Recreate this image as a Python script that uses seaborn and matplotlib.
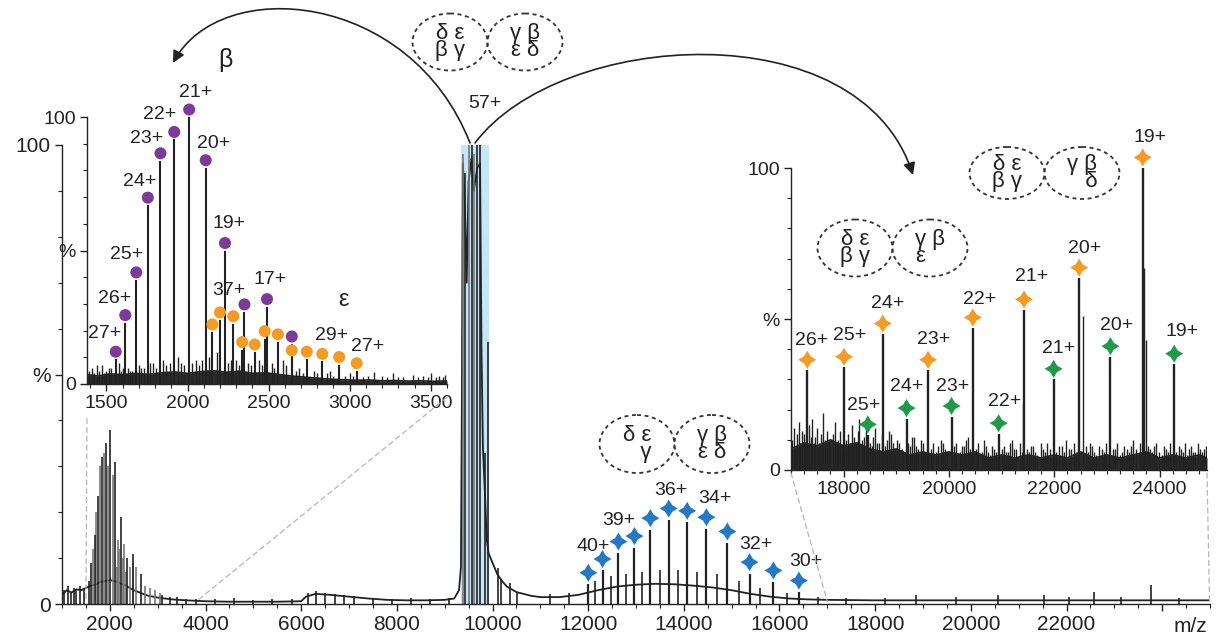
import matplotlib
matplotlib.use("Agg")
import matplotlib.pyplot as plt
from matplotlib.patches import Ellipse, FancyArrowPatch, ConnectionPatch
from matplotlib.path import Path
from matplotlib.transforms import Affine2D
import pandas as pd
import seaborn as sns

sns.set_style("ticks")
plt.rcParams["font.family"] = ["Liberation Sans", "DejaVu Sans"]

W, H = 1217, 644
INK = "#222222"
PURPLE = "#7d3a96"
ORANGE = "#f59a23"
GREEN = "#1f9a4b"
BLUE = "#2478c4"
BAND = "#c4e6f7"
STAR = Path.unit_regular_star(4, 0.53)  # four-point diamond with concave sides

# ---------------- main spectrum (m/z 1000-25000) ----------------
main_trace_mz = [1000, 1100, 1200, 1300, 1400, 1500, 1600, 1700, 1800, 1900,
                 2000, 2100, 2200, 2300, 2400, 2500, 2600, 2700, 2800, 3000,
                 3300, 3600, 4000, 4500, 5000, 5500, 6000, 6100, 6300, 6600,
                 7000, 7400, 7800, 8200, 8600, 9000, 9200, 9300, 9340, 9360,
                 9380, 9420, 9460, 9500, 9560, 9610, 9680, 9740, 9770, 9800,
                 9850, 9880, 9920, 9960, 10000, 10100, 10200, 10300, 10500, 10800,
                 11000, 11400, 11800, 12200, 12600, 13000, 13400, 13800, 14200, 14600,
                 15000, 15400, 15800, 16200, 16600, 17000, 18000, 19000, 20000, 21000,
                 22000, 23000, 24000, 25000]
main_trace_int = [2.0, 3.0, 2.5, 3.2, 3.0, 3.5, 4.0, 4.2, 4.8, 5.0,
                  5.2, 5.0, 4.6, 4.2, 3.6, 3.0, 2.6, 2.2, 1.8, 1.4,
                  1.0, 0.8, 0.6, 0.5, 0.5, 0.5, 0.6, 1.6, 2.2, 2.0,
                  1.6, 1.2, 0.9, 0.8, 0.8, 0.9, 1.2, 3.0, 8.0, 45.0,
                  96.0, 88.0, 70.0, 92.0, 97.0, 90.0, 95.0, 96.0, 55.0, 34.0,
                  22.0, 14.0, 11.0, 10.0, 9.0, 6.5, 5.0, 3.8, 2.6, 1.8,
                  1.5, 1.5, 2.0, 3.0, 3.8, 4.2, 4.4, 4.3, 4.0, 3.6,
                  3.0, 2.2, 1.6, 1.2, 1.0, 0.9, 0.8, 0.8, 0.8, 0.8,
                  0.8, 0.8, 0.8, 0.8]

main_black_mz = [1557, 1616, 1684, 1755, 1833, 1918, 2010, 2112, 2231, 2351, 2490, 2643,
                 9425, 9561, 9680, 9735, 9840, 9909, 10105, 10188, 10362, 10502,
                 1050, 1120, 1180, 1250, 1300, 1380, 1450, 3100, 3250, 3400, 3600, 3800,
                 4200, 4600, 5000, 5400, 5800, 6150, 6300, 6500, 6700, 6900, 7100,
                 7500, 7900, 8300, 8700, 9100, 11200, 11600, 12150, 12480, 12800,
                 13130, 13500, 13880, 14270, 14690, 15150, 15600, 16150, 16800, 17400,
                 18200, 18848, 19683, 20560, 21520, 22050, 22570, 23130, 23770, 24360]
main_black_int = [5, 9, 15, 23.5, 32, 35, 38, 31, 19, 10, 11, 6.5,
                  94, 100, 100, 100, 33, 57, 7.8, 5.2, 4.6, 2.4,
                  3, 4, 2.5, 3.5, 3, 4, 3.5, 2, 1.5, 1.5, 1, 1,
                  1, 1.2, 0.9, 1.1, 1, 2.5, 2.8, 2.5, 2.2, 2, 1.8,
                  1.4, 1.1, 1.2, 1, 1.3, 2.2, 2.5, 5, 6, 6.5,
                  7, 7.5, 7.5, 7, 6.5, 5, 3.5, 2.5, 1.5, 1.3,
                  1.4, 2, 1.5, 2, 2, 1.5, 2.7, 1.5, 4.1, 1.2]
main_gray_mz = [1650, 1720, 1790, 1870, 1960, 2060, 2153, 2200, 2282, 2337, 2414, 2476,
                2557, 2735, 2831, 2935, 3043, 2180, 2300, 9380, 9512, 9610]
main_gray_int = [12, 20, 30, 33, 30, 28, 8, 12, 10, 7, 8, 9,
                 8, 4, 3.5, 3, 2.5, 14, 13, 98, 100, 98]

main_ion_mz = [12003, 12300, 12633, 12967, 13300, 13684, 14070, 14472, 14910, 15374, 15873, 16406]
main_ion_int = [4.3, 7.3, 11.1, 12.3, 16.2, 18.3, 17.8, 16.4, 13.3, 6.6, 4.8, 2.6]
main_label_text = ["40+", "39+", "36+", "34+", "32+", "30+"]
main_label_mz = [12110, 12633, 13730, 14650, 15500, 16550]
main_label_int = [12.5, 18.1, 24.7, 23.0, 13.0, 9.2]

# ---------------- left inset (beta / epsilon) ----------------
beta_mz = [1557, 1616, 1684, 1755, 1833, 1918, 2010, 2112, 2231, 2351, 2490, 2643]
beta_int = [9.3, 23, 39, 67, 83.6, 91.6, 100, 81, 50, 27, 29, 15]
eps_mz = [2153, 2200, 2282, 2337, 2414, 2476, 2557, 2643, 2735, 2831, 2935, 3043]
eps_int = [19.5, 24, 22.6, 12.9, 12, 17, 15.8, 9.8, 9.3, 8.5, 7.3, 5]
left_label_text = ["27+", "26+", "25+", "24+", "23+", "22+", "21+", "20+", "19+", "17+", "37+", "29+", "27+"]
left_label_mz = [1490, 1551, 1622, 1704, 1745, 1827, 2051, 2163, 2255, 2510, 2255, 2888, 3112]
left_label_int = [19, 32, 48.5, 76, 92, 101, 109, 90, 60, 39, 35, 18, 14]

left_trace_mz = [1380, 1450, 1520, 1600, 1680, 1760, 1840, 1920, 2000, 2080,
                 2160, 2240, 2320, 2400, 2480, 2560, 2640, 2720, 2800, 2880,
                 2960, 3040, 3120, 3200, 3280, 3360, 3440, 3520, 3600]
left_trace_int = [3.5, 3.0, 3.8, 3.5, 4.0, 3.6, 4.2, 4.5, 4.0, 4.6,
                  5.0, 4.4, 4.8, 4.0, 4.2, 3.6, 3.0, 2.6, 2.2, 1.8,
                  1.6, 1.4, 1.5, 1.2, 1.3, 1.1, 1.2, 1.0, 1.2]
left_minor_mz = [1395, 1410, 1425, 1440, 1455, 1470, 1485, 1500, 1515, 1530, 1545, 1575,
                 1590, 1605, 1630, 1645, 1660, 1700, 1715, 1730, 1770, 1790, 1805, 1850,
                 1870, 1890, 1940, 1960, 1980, 2030, 2050, 2070, 2090, 2130, 2180, 2250,
                 2265, 2300, 2320, 2370, 2390, 2440, 2460, 2520, 2535, 2590, 2610, 2670,
                 2690, 2710, 2780, 2800, 2860, 2880, 2900, 2970, 3000, 3020, 3080, 3110,
                 3150, 3200, 3230, 3270, 3300, 3330, 3390, 3420, 3450, 3480, 3500, 3530,
                 3550, 3575, 3590]
left_minor_int = [5, 6, 4, 7, 5, 7, 4, 5, 6, 6, 4, 8,
                  5, 6, 6, 5, 5, 7, 6, 6, 8, 8, 6, 9,
                  7, 8, 10, 8, 7, 8, 9, 7, 9, 10, 12, 8,
                  9, 9, 7, 8, 7, 9, 7, 8, 6, 9, 7, 5,
                  6, 4, 5, 4, 4, 5, 3, 3, 4, 3, 2.5, 3,
                  4.5, 3, 2.5, 4, 2.5, 2.5, 3.5, 2.5, 3, 2.5, 4, 2.5,
                  3, 2.5, 3.5]

# ---------------- right inset (17000-24900) ----------------
orange_mz = [17308, 18006, 18742, 19604, 20453, 21425, 22472, 23679]
orange_int = [33, 34, 45, 33, 47, 53, 63.5, 100]
orange_text = ["26+", "25+", "24+", "23+", "22+", "21+", "20+", "19+"]
orange_label_mz = [17393, 18120, 18829, 19703, 20576, 21571, 22583, 23817]
orange_label_int = [43, 44.7, 55, 43.3, 56.5, 64, 73.4, 110]
green_mz = [18459, 19194, 20048, 20943, 21987, 23066, 24277]
green_int = [11.6, 17, 17.7, 12, 30, 37.5, 35]
green_text = ["25+", "24+", "23+", "22+", "21+", "20+", "19+"]
green_label_mz = [18373, 19197, 20063, 21064, 22076, 23185, 24419]
green_label_int = [21.5, 27.6, 27.8, 22.6, 40.3, 48, 45.8]

right_trace_mz = [17000, 17250, 17500, 17750, 18000, 18250, 18500, 18750, 19000, 19250,
                  19500, 19750, 20000, 20250, 20500, 20750, 21000, 21250, 21500, 21750,
                  22000, 22250, 22500, 22750, 23000, 23250, 23500, 23750, 24000, 24250,
                  24500, 24750, 24900]
right_trace_int = [7, 9, 8, 10, 8, 9, 7, 6, 7, 5,
                   6, 5, 6, 5, 6, 4, 5, 4, 5, 4,
                   5, 4, 6, 4, 5, 4, 5, 6, 4, 5,
                   4, 5, 4]
right_minor_mz = [17020, 17050, 17085, 17120, 17150, 17180, 17210, 17240, 17270, 17350,
                  17380, 17400, 17430, 17460, 17500, 17530, 17565, 17600, 17640, 17680,
                  17715, 17750, 17790, 17830, 17865, 17900, 17930, 17960, 18040, 18080,
                  18115, 18150, 18190, 18230, 18265, 18300, 18340, 18380, 18420, 18500,
                  18530, 18565, 18600, 18640, 18680, 18720, 18780, 18820, 18860, 18900,
                  18940, 18980, 19020, 19060, 19100, 19130, 19230, 19260, 19300, 19330,
                  19380, 19420, 19460, 19500, 19540, 19660, 19700, 19760, 19800, 19840,
                  19880, 19920, 19960, 20100, 20140, 20200, 20240, 20280, 20320, 20360,
                  20400, 20520, 20560, 20620, 20660, 20700, 20740, 20780, 20820, 20860,
                  20900, 21000, 21040, 21080, 21120, 21160, 21200, 21240, 21280, 21340,
                  21380, 21410, 21480, 21520, 21560, 21600, 21640, 21680, 21740, 21780,
                  21820, 21860, 21920, 22040, 22080, 22140, 22180, 22220, 22270, 22320,
                  22380, 22420, 22540, 22600, 22640, 22680, 22720, 22760, 22800, 22850,
                  22900, 22940, 22980, 23120, 23150, 23200, 23240, 23290, 23330, 23380,
                  23420, 23460, 23500, 23560, 23620, 23710, 23745, 23780, 23820, 23860,
                  23900, 23940, 23990, 24040, 24080, 24120, 24160, 24200, 24320, 24360,
                  24400, 24440, 24480, 24520, 24560, 24600, 24640, 24680, 24720, 24760,
                  24800, 24840, 24880]
right_minor_int = [10, 14, 8, 12, 16, 9, 13, 12, 8, 15,
                   11, 17, 9, 11, 14, 9, 12, 19, 10, 13,
                   9, 8, 12, 16, 9, 10, 13, 7, 10, 12,
                   9, 15, 11, 9, 13, 17, 10, 11, 14, 9,
                   8, 11, 14, 9, 9, 12, 8, 10, 13, 12,
                   9, 7, 10, 9, 7, 6, 9, 8, 11, 11,
                   8, 7, 10, 9, 6, 7, 9, 6, 8, 10,
                   9, 7, 6, 8, 9, 6, 8, 8, 10, 11,
                   7, 7, 9, 6, 10, 8, 6, 5, 8, 7,
                   6, 7, 8, 6, 6, 9, 10, 7, 7, 9,
                   6, 22, 7, 6, 8, 8, 6, 5, 9, 7,
                   6, 9, 7, 6, 8, 8, 6, 10, 7, 7,
                   9, 6, 51, 8, 6, 9, 8, 6, 5, 8,
                   7, 6, 9, 7, 7, 9, 5, 6, 8, 7,
                   6, 8, 10, 7, 9, 67, 43, 8, 7, 6,
                   8, 9, 6, 5, 8, 7, 6, 9, 6, 8,
                   7, 6, 9, 5, 7, 8, 6, 6, 9, 7,
                   6, 7, 8]

# ---------------- figure ----------------
fig = plt.figure(figsize=(W / 100, H / 100), dpi=100)
pix = Affine2D().scale(1 / W, -1 / H).translate(0, 1) + fig.transFigure


def axes_px(left, right, bottom, top):
    return fig.add_axes([left / W, 1 - bottom / H, (right - left) / W, (bottom - top) / H])


def style(ax, xlim, xmajor, xlabels, xminor, fs):
    ax.set_xlim(*xlim)
    ax.set_ylim(0, 100)
    ax.set_facecolor("none")
    for s in ["top", "right"]:
        ax.spines[s].set_visible(False)
    for s in ["left", "bottom"]:
        ax.spines[s].set_linewidth(1.0)
        ax.spines[s].set_color(INK)
    ax.set_xticks(xmajor)
    ax.set_xticklabels(xlabels, fontsize=fs, color=INK)
    ax.set_xticks(xminor, minor=True)
    ax.set_yticks([0, 50, 100])
    ax.set_yticklabels(["0", "%", "100"], fontsize=fs, color=INK)
    ax.set_yticks(range(10, 100, 10), minor=True)
    ax.tick_params(which="major", direction="out", length=5, width=1, color=INK, pad=3)
    ax.tick_params(which="minor", direction="out", length=3, width=0.8, color=INK)
    ax.set_xlabel("")
    ax.set_ylabel("")


def trace(ax, mz, inten, lw=1.0, fill=False):
    df = pd.DataFrame({"mz": mz, "int": inten})
    sns.lineplot(data=df, x="mz", y="int", ax=ax, color=INK, lw=lw,
                 estimator=None, sort=False, legend=False)
    if fill:
        ax.fill_between(df["mz"], 0, df["int"], color="#2a2a2a", lw=0)


# main axes
ax = axes_px(62, 1210, 604, 145)
ax.axvspan(9350, 9930, color=BAND, lw=0, zorder=0)
trace(ax, main_trace_mz, main_trace_int, lw=1.3)
ax.vlines(main_gray_mz, 0, main_gray_int, color="#777777", lw=1.2)
ax.vlines(main_black_mz, 0, main_black_int, color=INK, lw=1.2)
ax.vlines(main_ion_mz, 0, main_ion_int, color=INK, lw=1.6)
ions = pd.DataFrame({"mz": main_ion_mz, "int": [v + 2.5 for v in main_ion_int]})
sns.scatterplot(data=ions, x="mz", y="int", ax=ax, marker=STAR, s=170,
                color=BLUE, edgecolor="none", zorder=5, clip_on=False)
for t, x, y in zip(main_label_text, main_label_mz, main_label_int):
    ax.text(x, y, t, ha="center", va="center", fontsize=14, color=INK)
ax.text(9840, 109, "57+", ha="center", va="center", fontsize=14, color=INK, clip_on=False)
style(ax, (1000, 25000), list(range(2000, 25000, 2000)),
      [str(v) for v in range(2000, 23000, 2000)] + [""],
      list(range(1000, 25001, 500)), 15)
fig.text(1190, 627, "m/z", transform=pix, ha="center", va="center", fontsize=15, color=INK)

# left inset
axl = axes_px(87, 447, 384, 117)
trace(axl, left_trace_mz, left_trace_int, lw=1.2, fill=True)
axl.vlines(left_minor_mz, 0, left_minor_int, color=INK, lw=1.0)
axl.vlines(beta_mz, 0, beta_int, color=INK, lw=1.5)
axl.vlines(eps_mz, 0, eps_int, color=INK, lw=1.5)
bdf = pd.DataFrame({"mz": beta_mz, "int": [v + 2.8 for v in beta_int]})
edf = pd.DataFrame({"mz": eps_mz, "int": [v + 2.8 for v in eps_int]})
sns.scatterplot(data=edf, x="mz", y="int", ax=axl, marker="o", s=75,
                color=ORANGE, edgecolor="none", zorder=5, clip_on=False)
sns.scatterplot(data=bdf, x="mz", y="int", ax=axl, marker="o", s=75,
                color=PURPLE, edgecolor="none", zorder=6, clip_on=False)
for t, x, y in zip(left_label_text, left_label_mz, left_label_int):
    axl.text(x, y, t, ha="center", va="center", fontsize=14, color=INK, clip_on=False)
axl.text(2959, 31.5, "ε", ha="center", va="center", fontsize=17, color=INK)
style(axl, (1380, 3600), [1500, 2000, 2500, 3000, 3500],
      ["1500", "2000", "2500", "3000", "3500"], list(range(1400, 3601, 100)), 14)
fig.text(225, 60, "β", transform=pix, ha="center", va="center", fontsize=18, color=INK)

# right inset
axr = axes_px(791, 1207, 470, 168)
trace(axr, right_trace_mz, right_trace_int, lw=1.2, fill=True)
axr.vlines(right_minor_mz, 0, right_minor_int, color=INK, lw=1.0)
axr.vlines(orange_mz, 0, orange_int, color=INK, lw=1.7)
axr.vlines(green_mz, 0, green_int, color=INK, lw=1.7)
odf = pd.DataFrame({"mz": orange_mz, "int": [v + 3.5 for v in orange_int]})
gdf = pd.DataFrame({"mz": green_mz, "int": [v + 3.5 for v in green_int]})
sns.scatterplot(data=odf, x="mz", y="int", ax=axr, marker=STAR, s=170,
                color=ORANGE, edgecolor="none", zorder=5, clip_on=False)
sns.scatterplot(data=gdf, x="mz", y="int", ax=axr, marker=STAR, s=170,
                color=GREEN, edgecolor="none", zorder=5, clip_on=False)
for t, x, y in zip(orange_text + green_text, orange_label_mz + green_label_mz,
                   orange_label_int + green_label_int):
    axr.text(x, y, t, ha="center", va="center", fontsize=14, color=INK, clip_on=False)
style(axr, (17000, 24900), [18000, 20000, 22000, 24000],
      ["18000", "20000", "22000", "24000"], list(range(17000, 24901, 250)), 14)

# zoom connectors
dash = dict(ls=(0, (4, 3)), color="#b5b5b5", lw=0.9)
fig.add_artist(ConnectionPatch((0, -0.13), (1500, 0.5), axl.transAxes, ax.transData, **dash))
fig.add_artist(ConnectionPatch((1, -0.05), (3800, 0.5), axl.transAxes, ax.transData, **dash))
fig.add_artist(ConnectionPatch((0, -0.01), (17000, 0.5), axr.transAxes, ax.transData, **dash))
fig.add_artist(ConnectionPatch((1, -0.01), (24990, 0.5), axr.transAxes, ax.transData, **dash))

# curved arrows from the 57+ peak
curves = [
    [(470, 143), (410, -10), (220, -25), (173, 63)],
    [(475, 143), (560, 30), (860, 10), (913, 175)],
]
for pts in curves:
    arrow = FancyArrowPatch(path=Path(pts, [Path.MOVETO, Path.CURVE4, Path.CURVE4, Path.CURVE4]),
                            arrowstyle="-|>", mutation_scale=18, lw=1.2, color=INK,
                            transform=pix)
    fig.add_artist(arrow)

# subunit composition cartoons (pairs of dashed ellipses)
pairs = [
    (450, 42, 75, 57, "δ ε\nβ γ", "γ β\nε δ"),
    (637, 444, 75, 58, "δ ε\n   γ", "γ β\nε δ"),
    (855, 248, 75, 57, "δ ε\nβ γ", "γ β\nε   "),
    (1007, 173, 75, 52, "δ ε\nβ γ", "γ β\n   δ"),
]
for cx, cy, w, h, t1, t2 in pairs:
    for dx, t in [(0, t1), (w, t2)]:
        fig.add_artist(Ellipse((cx + dx, cy), w, h, transform=pix, fill=False,
                               ec="#333333", lw=1.3, ls=(0, (2.2, 2))))
        fig.text(cx + dx, cy, t, transform=pix, ha="center", va="center",
                 fontsize=16, color=INK, linespacing=0.8)

fig.savefig("out.png", dpi=100)
